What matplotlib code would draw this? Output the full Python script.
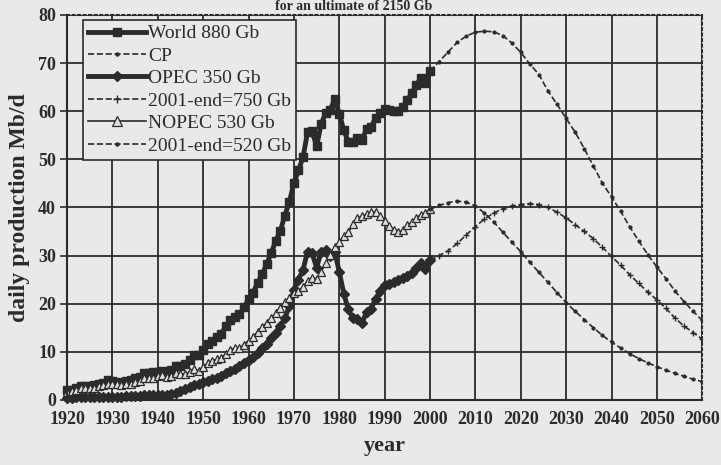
import numpy as np
import matplotlib.pyplot as plt

# historical production, Mb/d, one value per year 1920-2000
years = np.arange(1920, 2001)
world = [2.0, 2.1, 2.4, 2.8, 2.8, 2.9, 3.0, 3.4, 3.6, 4.1,
         3.9, 3.8, 3.6, 3.9, 4.1, 4.5, 4.8, 5.6, 5.5, 5.7,
         5.9, 6.1, 5.7, 6.2, 7.0, 7.1, 7.5, 8.3, 9.4, 9.3,
         10.4, 11.7, 12.3, 13.1, 13.7, 15.3, 16.6, 17.3, 17.8, 19.2,
         20.9, 22.3, 24.3, 26.1, 28.2, 30.6, 33.0, 35.1, 38.3, 41.2,
         45.0, 47.7, 50.4, 55.6, 55.8, 52.7, 57.3, 59.6, 60.2, 62.5,
         59.5, 56.0, 53.6, 53.5, 54.5, 54.0, 56.2, 56.6, 58.6, 59.6,
         60.5, 60.2, 60.1, 60.0, 60.9, 62.3, 63.8, 65.5, 66.8, 65.8,
         68.3]
opec = [0.4, 0.4, 0.5, 0.5, 0.5, 0.5, 0.6, 0.6, 0.7, 0.7,
        0.7, 0.7, 0.7, 0.8, 0.8, 0.9, 0.9, 1.0, 1.0, 1.1,
        1.0, 1.0, 1.1, 1.2, 1.5, 1.8, 2.2, 2.6, 3.0, 3.3,
        3.7, 4.0, 4.3, 4.6, 5.0, 5.5, 6.0, 6.4, 7.0, 7.6,
        8.3, 9.0, 9.8, 10.7, 11.7, 12.8, 14.0, 15.3, 17.0, 19.5,
        22.8, 25.0, 27.0, 30.8, 30.5, 27.5, 30.7, 31.2, 30.0, 30.8,
        26.6, 22.0, 18.8, 17.0, 16.8, 16.0, 18.2, 18.9, 21.0, 22.6,
        23.8, 24.0, 24.6, 25.0, 25.4, 25.8, 26.4, 27.5, 28.5, 27.3,
        29.0]
nopec = [1.7, 1.9, 2.1, 2.4, 2.4, 2.5, 2.5, 2.8, 3.0, 3.4,
         3.3, 3.2, 3.0, 3.2, 3.4, 3.7, 4.0, 4.6, 4.5, 4.6,
         4.9, 5.1, 4.7, 5.0, 5.6, 5.4, 5.4, 5.8, 6.4, 6.1,
         6.8, 7.7, 8.0, 8.5, 8.7, 9.6, 10.4, 10.8, 10.7, 11.5,
         12.3, 13.1, 14.2, 15.1, 16.0, 17.0, 18.0, 19.0, 20.3, 21.2,
         22.2, 22.7, 23.4, 24.8, 25.3, 25.2, 26.6, 28.4, 30.2, 31.7,
         32.9, 34.0, 34.8, 36.5, 37.7, 38.2, 38.6, 39.0, 39.0, 38.2,
         37.2, 36.2, 35.3, 34.8, 35.3, 36.3, 37.0, 37.8, 38.5, 38.8,
         39.6]

# forecasts, every 2 years 2000-2060
f_years = np.arange(2000, 2061, 2)
world_cp = [68.3, 70.3, 72.3, 74.3, 75.6, 76.4, 76.6, 76.5, 75.7, 74.2,
            72.2, 69.8, 67.6, 64.2, 61.4, 58.5, 55.6, 52.2, 48.6, 45.0,
            42.2, 39.2, 36.0, 33.0, 30.2, 27.6, 25.2, 22.6, 20.4, 18.4,
            16.5]
opec_fc = [29.0, 30.0, 31.0, 32.5, 34.3, 36.0, 37.6, 38.8, 39.7, 40.3,
           40.6, 40.8, 40.6, 40.0, 39.0, 37.8, 36.4, 35.0, 33.5, 31.7,
           29.8, 28.0, 26.0, 24.2, 22.4, 20.8, 19.0, 17.0, 15.3, 14.0,
           12.6]
nopec_fc = [39.6, 40.4, 41.0, 41.3, 41.1, 40.3, 38.8, 37.0, 34.9, 32.8,
            30.8, 28.6, 26.5, 24.4, 22.3, 20.2, 18.4, 16.7, 15.0, 13.4,
            12.0, 10.8, 9.6, 8.6, 7.7, 6.9, 6.2, 5.5, 4.9, 4.3,
            3.8]

ink = '#2b2b2b'
paper = '#e9e9e9'
plt.rcParams['font.family'] = ['Liberation Serif', 'DejaVu Serif']

fig = plt.figure(figsize=(7.21, 4.65), dpi=100, facecolor=paper)
ax = fig.add_axes([0.093, 0.140, 0.881, 0.828], facecolor=paper)

ax.plot(years, world, '-s', color=ink, lw=3.5, ms=5.5, label='World 880 Gb', clip_on=False)
ax.plot(f_years, world_cp, '--', color=ink, lw=1.2, marker='.', ms=4, label='CP')
ax.plot(years, opec, '-D', color=ink, lw=3.5, ms=5, label='OPEC 350 Gb', clip_on=False)
ax.plot(f_years, opec_fc, '--', color=ink, lw=1.2, marker='+', ms=5, label='2001-end=750 Gb')
ax.plot(years, nopec, '-^', color=ink, lw=1.2, ms=6, mfc='#dddddd', mew=0.9,
        label='NOPEC 530 Gb', clip_on=False)
ax.plot(f_years, nopec_fc, '--', color=ink, lw=1.2, marker='.', ms=4, label='2001-end=520 Gb')

ax.set_xlim(1920, 2060)
ax.set_ylim(0, 80)
ax.set_xticks(np.arange(1920, 2061, 10))
ax.set_yticks(np.arange(0, 81, 10))
ax.grid(True, color=ink, lw=1.3)
ax.set_axisbelow(True)
ax.tick_params(labelsize=13, colors=ink, width=1.2)
ax.tick_params(axis='x', length=0, pad=8)
ax.tick_params(axis='y', length=5, pad=3)
for lab in ax.get_xticklabels() + ax.get_yticklabels():
    lab.set_fontweight('bold')
for s in ['left', 'bottom']:
    ax.spines[s].set_color(ink)
    ax.spines[s].set_linewidth(1.5)
for s in ['top', 'right']:
    ax.spines[s].set_color(ink)
    ax.spines[s].set_linestyle(':')
    ax.spines[s].set_linewidth(1.5)

ax.set_xlabel('year', fontsize=16, fontweight='bold', color=ink, labelpad=6)
ax.set_ylabel('daily production Mb/d', fontsize=17, fontweight='bold', color=ink, labelpad=6)

fig.text(0.49, 0.999, 'for an ultimate of 2150 Gb', ha='center', va='top',
         fontsize=10, fontweight='bold', color=ink)

leg = ax.legend(loc='upper left', bbox_to_anchor=(0.025, 0.987), fontsize=14,
                frameon=True, fancybox=False, handlelength=3.0, handletextpad=0.1,
                labelspacing=0.25, borderpad=0.25, borderaxespad=0, markerscale=1.1)
leg.get_frame().set_facecolor(paper)
leg.get_frame().set_edgecolor(ink)
leg.get_frame().set_linewidth(1.2)
leg.get_frame().set_alpha(1)
for t in leg.get_texts():
    t.set_color(ink)

fig.savefig('out.png', dpi=100, facecolor=paper)
